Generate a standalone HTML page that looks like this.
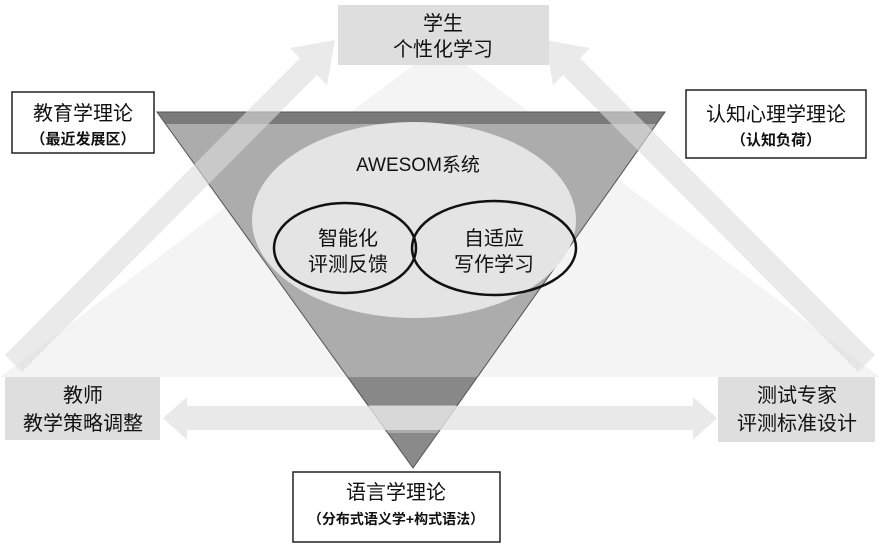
<!DOCTYPE html>
<html><head><meta charset="utf-8"><style>
body{margin:0;width:880px;height:551px;overflow:hidden;background:#fff}
svg text{font-family:"Liberation Sans","Noto Sans CJK SC",sans-serif;fill:#111;text-anchor:middle}
</style></head><body>
<svg width="880" height="551" viewBox="0 0 880 551">
<defs>
<clipPath id="tri"><polygon points="157,112 665,112 413,468"/></clipPath>
</defs>
<polygon points="440,45 0,377 880,377" fill="#f4f4f4"/>
<g clip-path="url(#tri)">
<rect x="0" y="100" width="880" height="400" fill="#acacac"/>
<rect x="0" y="112" width="880" height="12" fill="#7a7a7a"/>
<rect x="0" y="377" width="880" height="28" fill="#888"/>
<rect x="0" y="433" width="880" height="40" fill="#8a8a8a"/>
</g>
<polygon points="157,112 665,112 413,468" fill="none" stroke="#555" stroke-width="1"/>
<g fill="#dcdcdc" opacity="0.6">
<polygon points="5,355 300,58 290,48 335,40 327,85 317,75 22,372"/>
<polygon points="875,355 580,58 590,48 545,40 553,85 563,75 858,372"/>
</g>
<g fill="#e3e3e3" opacity="0.8">
<polygon points="163,418 187,397 187,406 693,406 693,397 717,418 693,440 693,430 187,430 187,440"/>
</g>
<ellipse cx="414" cy="220" rx="162" ry="98" fill="#e4e4e4"/>
<ellipse cx="345" cy="248" rx="71" ry="45" fill="none" stroke="#111" stroke-width="2.5"/>
<ellipse cx="494" cy="248" rx="82" ry="47" fill="none" stroke="#111" stroke-width="2.5"/>
<text x="418" y="171" font-size="19">AWESOM系统</text>
<text x="348" y="245" font-size="20">智能化</text>
<text x="348" y="271" font-size="20">评测反馈</text>
<text x="494" y="245" font-size="20">自适应</text>
<text x="494" y="271" font-size="20">写作学习</text>
<rect x="338" y="5" width="211" height="60" fill="#dedede"/>
<text x="443" y="30" font-size="20">学生</text>
<text x="443" y="56" font-size="20">个性化学习</text>
<rect x="12" y="92" width="142" height="61" fill="#fff" stroke="#222" stroke-width="1.5"/>
<text x="83" y="120" font-size="20">教育学理论</text>
<text x="83" y="144" font-size="15" font-weight="bold">（最近发展区）</text>
<rect x="686" y="90" width="180" height="68" fill="#fff" stroke="#222" stroke-width="1.5"/>
<text x="776" y="121" font-size="20">认知心理学理论</text>
<text x="776" y="145" font-size="15" font-weight="bold">（认知负荷）</text>
<rect x="5" y="377" width="155" height="63" fill="#dedede"/>
<text x="83" y="402" font-size="20">教师</text>
<text x="83" y="430" font-size="20">教学策略调整</text>
<rect x="718" y="377" width="157" height="65" fill="#dedede"/>
<text x="797" y="402" font-size="20">测试专家</text>
<text x="797" y="430" font-size="20">评测标准设计</text>
<rect x="293" y="472" width="207" height="70" fill="#fff" stroke="#222" stroke-width="1.5"/>
<text x="396" y="499" font-size="20">语言学理论</text>
<text x="396" y="524" font-size="14" font-weight="bold">（分布式语义学+构式语法）</text>
</svg>
</body></html>
